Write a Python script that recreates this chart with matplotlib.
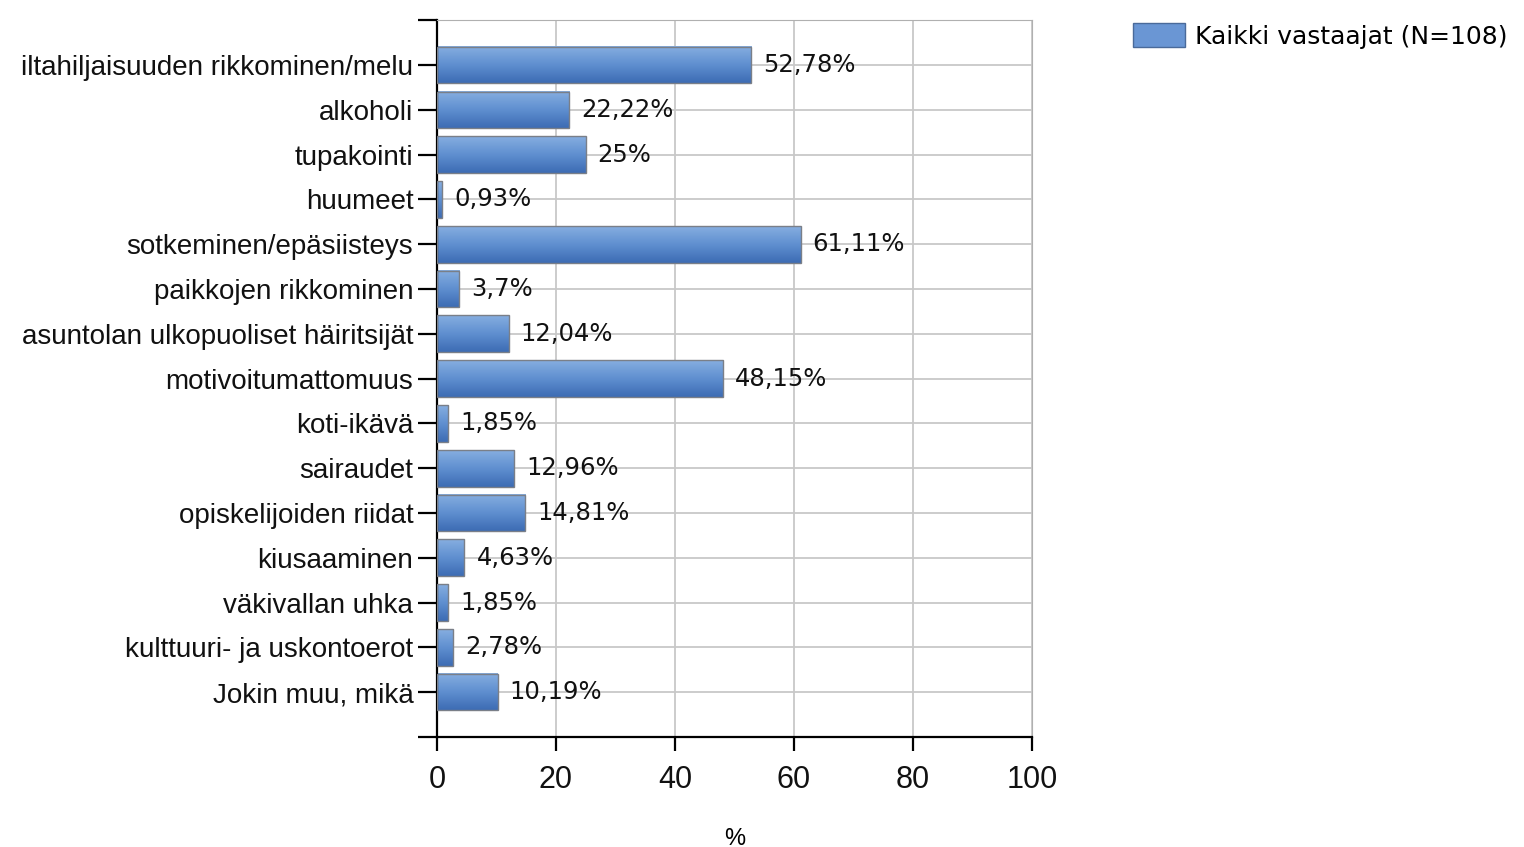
import numpy as np
import matplotlib.pyplot as plt
from matplotlib.patches import Patch

categories = [
    "iltahiljaisuuden rikkominen/melu",
    "alkoholi",
    "tupakointi",
    "huumeet",
    "sotkeminen/epäsiisteys",
    "paikkojen rikkominen",
    "asuntolan ulkopuoliset häiritsijät",
    "motivoitumattomuus",
    "koti-ikävä",
    "sairaudet",
    "opiskelijoiden riidat",
    "kiusaaminen",
    "väkivallan uhka",
    "kulttuuri- ja uskontoerot",
    "Jokin muu, mikä",
]
values = [52.78, 22.22, 25, 0.93, 61.11, 3.7, 12.04, 48.15, 1.85, 12.96, 14.81, 4.63, 1.85, 2.78, 10.19]
value_labels = ["52,78%", "22,22%", "25%", "0,93%", "61,11%", "3,7%", "12,04%", "48,15%",
                "1,85%", "12,96%", "14,81%", "4,63%", "1,85%", "2,78%", "10,19%"]
x_ticks = [0, 20, 40, 60, 80, 100]
series_name = "Kaikki vastaajat (N=108)"

narrow = ["Liberation Sans Narrow", "Liberation Sans", "DejaVu Sans"]

fig = plt.figure(figsize=(15.24, 8.47), dpi=100)
ax = fig.add_axes([0.2867, 0.130, 0.3904, 0.846])

y = np.arange(len(categories))
bar_h = 0.82

# gradient fill for the bars
grad = np.linspace(0, 1, 64).reshape(-1, 1)
cmap = plt.matplotlib.colors.LinearSegmentedColormap.from_list(
    "barblue", ["#86aee0", "#5f8fd0", "#3d6cb4"])
for yi, v, lab in zip(y, values, value_labels):
    ax.imshow(grad, extent=(0, v, yi + bar_h / 2, yi - bar_h / 2), aspect="auto",
              cmap=cmap, zorder=2, interpolation="bilinear")
    ax.barh(yi, v, height=bar_h, color="none", edgecolor="#7a7f88", linewidth=1.0, zorder=3)
    ax.text(v + 2.0, yi, lab, va="center", ha="left",
            fontsize=17.5, family=["DejaVu Sans"], color="#111111", zorder=4)

ax.set_xlim(0, 100)
ax.set_ylim(len(categories), -1)
ax.set_yticks(np.arange(-1, len(categories) + 1))
ax.set_yticklabels([""] + categories + [""], fontsize=20, family=narrow, color="#111111")
ax.set_xticks(x_ticks)
ax.set_xticklabels([str(t) for t in x_ticks], fontsize=22, family=narrow, color="#111111")
ax.set_xlabel("%", fontsize=17, family=narrow, labelpad=24)

ax.grid(True, color="#c8c8c8", linewidth=1.3, zorder=0)
ax.set_axisbelow(True)
for s in ["top", "right"]:
    ax.spines[s].set_color("#b0b0b0")
for s in ["left", "bottom"]:
    ax.spines[s].set_color("black")
    ax.spines[s].set_linewidth(1.6)
ax.tick_params(axis="y", length=14, width=1.6, pad=3)
ax.tick_params(axis="x", length=10, width=1.6, pad=10)

fig.legend(handles=[Patch(facecolor="#6a96d4", edgecolor="#4a6a9a", label=series_name)],
           loc="upper right", bbox_to_anchor=(1.004, 0.999), frameon=False,
           prop={"family": "DejaVu Sans", "size": 18}, handlelength=2.1, handleheight=1.1,
           handletextpad=0.4)

fig.savefig("out.png", dpi=100)
